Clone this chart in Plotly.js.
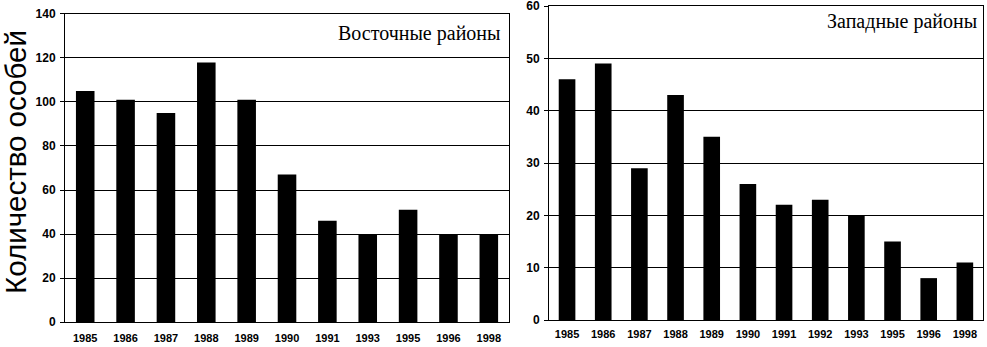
<!DOCTYPE html>
<html>
<head>
<meta charset="utf-8">
<script src="https://cdn.plot.ly/plotly-3.0.1.min.js"></script>
<style>html,body{margin:0;padding:0;background:#fff;}#chart{width:987px;height:347px;}</style>
</head>
<body>
<div id="chart"></div>
<script>
const eastYears = ['1985','1986','1987','1988','1989','1990','1991','1993','1995','1996','1998'];
const eastValues = [105, 101, 95, 118, 101, 67, 46, 40, 51, 40, 40];
const westYears = ['1985','1986','1987','1988','1989','1990','1991','1992','1993','1995','1996','1998'];
const westValues = [46, 49, 29, 43, 35, 26, 22, 23, 20, 15, 8, 11];
const eastTicks = [0, 20, 40, 60, 80, 100, 120, 140];
const westTicks = [0, 10, 20, 30, 40, 50, 60];
const yTitle = 'Количество особей';
const eastLabel = 'Восточные районы';
const westLabel = 'Западные районы';

const xTickFont = {family: 'Liberation Sans, Arial, sans-serif', size: 11, color: '#000', weight: 'bold'};
const yTickFont = {family: 'Liberation Sans, Arial, sans-serif', size: 12, color: '#000', weight: 'bold'};
const data = [
  {type: 'bar', x: eastYears, y: eastValues, xaxis: 'x', yaxis: 'y',
   marker: {color: '#000'}, hoverinfo: 'x+y'},
  {type: 'bar', x: westYears, y: westValues, xaxis: 'x2', yaxis: 'y2',
   marker: {color: '#000'}, hoverinfo: 'x+y'}
];
const axisCommon = {
  showline: true, linecolor: '#000', linewidth: 1, mirror: true,
  zeroline: false, fixedrange: true, automargin: false, ticklabeloverflow: 'allow'
};
const layout = {
  width: 987, height: 347,
  margin: {l: 0, r: 0, t: 0, b: 0},
  paper_bgcolor: '#fff', plot_bgcolor: '#fff',
  showlegend: false, bargap: 0.54,
  font: {family: 'Liberation Sans, Arial, sans-serif', color: '#000'},
  xaxis: Object.assign({}, axisCommon, {domain: [0.0659, 0.5157], type: 'category', ticks: '', showgrid: false, tickfont: xTickFont, ticklabelstandoff: 6}),
  yaxis: Object.assign({}, axisCommon, {domain: [0.072, 0.9597], range: [0, 140], tickvals: eastTicks, ticks: 'outside', ticklen: 4, tickcolor: '#000', showgrid: true, gridcolor: '#000', gridwidth: 1, tickfont: yTickFont, ticklabelstandoff: 2}),
  xaxis2: Object.assign({}, axisCommon, {domain: [0.5562, 0.9959], type: 'category', anchor: 'y2', ticks: '', showgrid: false, tickfont: xTickFont, ticklabelstandoff: 4}),
  yaxis2: Object.assign({}, axisCommon, {domain: [0.0778, 0.9827], range: [0, 60], tickvals: westTicks, anchor: 'x2', ticks: 'outside', ticklen: 4, tickcolor: '#000', showgrid: true, gridcolor: '#000', gridwidth: 1, tickfont: yTickFont, ticklabelstandoff: 2}),
  annotations: [
    {text: yTitle, xref: 'paper', yref: 'paper', x: 15/987, y: (347-162)/347, textangle: -90, showarrow: false,
     font: {family: 'Liberation Sans, Arial, sans-serif', size: 29.5, color: '#000'}, xanchor: 'center', yanchor: 'middle'},
    {text: eastLabel, xref: 'x domain', yref: 'y domain', x: 0.985, y: 0.98, xanchor: 'right', yanchor: 'top', showarrow: false,
     font: {family: 'Liberation Serif, Times New Roman, serif', size: 20, color: '#000'}},
    {text: westLabel, xref: 'x2 domain', yref: 'y2 domain', x: 0.99, y: 0.995, xanchor: 'right', yanchor: 'top', showarrow: false,
     font: {family: 'Liberation Serif, Times New Roman, serif', size: 20, color: '#000'}}
  ]
};
Plotly.newPlot('chart', data, layout, {displayModeBar: false, staticPlot: true});
</script>
</body>
</html>
